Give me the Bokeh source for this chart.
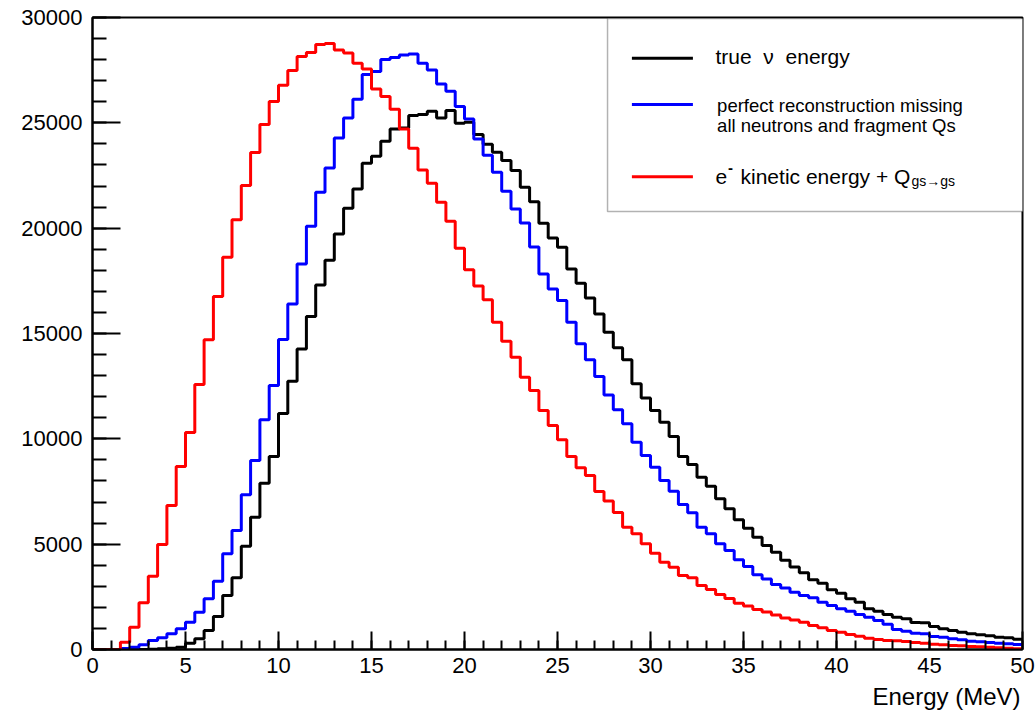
from bokeh.plotting import figure
from bokeh.models import Range1d, SingleIntervalTicker, Label, BoxAnnotation, Title
from bokeh.embed import file_html
from bokeh.resources import INLINE

# ---------------- data ----------------
e_min, e_max, n_bins = 0.0, 50.0, 100

true_nu = [
    0, 0, 0, 0, 0, 0, 10, 30, 60, 110,
    300, 506, 902, 1566, 2563, 3402, 4904, 6281, 7895, 9160,
    11200, 12735, 14269, 15805, 17308, 18480, 19728, 20947, 21864, 23082,
    23414, 24126, 24713, 24760, 25344, 25392, 25550, 25234, 25582, 24980,
    25027, 24443, 23980, 23605, 23208, 22734, 21940, 21250, 20233, 19537,
    19094, 18067, 17387, 16691, 15931, 15061, 14318, 13749, 12620, 11940,
    11343, 10789, 10109, 9160, 8780, 8179, 7752, 7151, 6677, 6155,
    5759, 5332, 4936, 4620, 4240, 3920, 3640, 3307, 3148, 2832,
    2674, 2404, 2246, 1930, 1819, 1661, 1530, 1455, 1281, 1265,
    1092, 981, 902, 823, 744, 696, 649, 585, 554, 490,
]

perfect_reco = [
    0, 0, 0, 50, 110, 221, 427, 554, 744, 981,
    1297, 1772, 2404, 3243, 4540, 5648, 7341, 8970, 10910, 12530,
    14713, 16406, 18304, 20092, 21706, 22861, 24285, 25234, 26120, 27290,
    27433, 28002, 28100, 28224, 28271, 27827, 27511, 26847, 26499, 25771,
    25187, 24238, 23460, 22655, 21750, 20915, 20250, 19110, 17830, 17118,
    16564, 15535, 14508, 13749, 12957, 12080, 11376, 10711, 9840, 9207,
    8654, 8021, 7515, 6882, 6487, 5807, 5490, 5015, 4699, 4256,
    3939, 3544, 3350, 3080, 2920, 2720, 2563, 2452, 2246, 2088,
    1930, 1819, 1661, 1534, 1376, 1200, 955, 870, 775, 744,
    617, 585, 506, 459, 395, 364, 332, 300, 269, 237,
]

electron_ke = [
    0, 0, 0, 346, 1060, 2215, 3480, 4983, 6834, 8685,
    10300, 12577, 14700, 16754, 18620, 20394, 22022, 23588, 24917, 26009,
    26783, 27480, 28144, 28334, 28714, 28761, 28462, 28320, 27827, 27560,
    26611, 26246, 25643, 24713, 23793, 22767, 22131, 21230, 20327, 19046,
    18021, 17260, 16597, 15534, 14633, 13873, 12924, 12292, 11343, 10631,
    9951, 9160, 8622, 8258, 7499, 7050, 6502, 5806, 5490, 5015,
    4572, 4145, 3908, 3512, 3402, 3037, 2848, 2610, 2420, 2200,
    2060, 1900, 1780, 1640, 1500, 1400, 1297, 1139, 1028, 902,
    823, 712, 633, 538, 475, 427, 410, 380, 332, 300,
    253, 221, 190, 174, 142, 127, 111, 80, 63, 32,
]

series_labels = ["true\u00a0\u00a0\u03bd\u00a0\u00a0energy",
                 "perfect reconstruction missing",
                 "all neutrons and fragment Qs",
                 "e", "-", "kinetic energy + Q", "gs\u2192gs"]
x_title = "Energy (MeV)"
y_title = "Events"

# ---------------- figure ----------------
FONT = "Liberation Sans"
bw = (e_max - e_min) / n_bins
edges = [e_min + i * bw for i in range(n_bins + 1)]

p = figure(width=1035, height=717, output_backend="svg", toolbar_location=None,
           x_range=Range1d(0, 50), y_range=Range1d(0, 30000),
           min_border_left=92, min_border_right=13, min_border_top=17,
           min_border_bottom=68)
p.xgrid.visible = False
p.ygrid.visible = False
p.outline_line_color = "black"
p.outline_line_width = 2
p.background_fill_color = "white"
p.border_fill_color = "white"

p.xaxis.ticker = SingleIntervalTicker(interval=5, num_minor_ticks=5)
p.yaxis.ticker = SingleIntervalTicker(interval=5000, num_minor_ticks=5)
for ax in (p.xaxis, p.yaxis):
    ax.axis_line_width = 2
    ax.axis_line_color = "black"
    ax.major_tick_line_width = 2
    ax.minor_tick_line_width = 2
    ax.major_tick_out = 0
    ax.minor_tick_out = 0
    ax.major_label_text_font = FONT
    ax.major_label_text_font_size = "22px"
    ax.major_label_text_color = "black"
p.xaxis.major_tick_in = 18
p.xaxis.minor_tick_in = 9
p.yaxis.major_tick_in = 28
p.yaxis.minor_tick_in = 14
p.xaxis.major_label_standoff = 8
p.yaxis.major_label_standoff = 10

for vals, col in [(true_nu, "#000000"), (perfect_reco, "#0000ff"), (electron_ke, "#ff0000")]:
    p.step(edges, list(vals) + [vals[-1]], mode="after", line_color=col, line_width=3)

# ---------------- legend ----------------
p.add_layout(BoxAnnotation(left=27.69, right=50.05, bottom=20791, top=29952,
                           fill_color="white", fill_alpha=1.0,
                           line_color="black", line_width=1.5))
for yy, col in [(28068, "#000000"), (25870, "#0000ff"), (22438, "#ff0000")]:
    r = p.segment(x0=[29.0], y0=[yy], x1=[32.28], y1=[yy], line_color=col, line_width=3)
    r.level = "overlay"

def lab(x, y, t, size, **kw):
    p.add_layout(Label(x=x, y=y, text=t, text_font=FONT, text_font_size=size,
                       text_color="black", text_baseline="alphabetic", **kw))

dy = 330  # baseline correction (~7 px)
lab(33.495, 27698 + dy + 100, series_labels[0], "21px")
lab(33.58, 25504 + dy, series_labels[1], "18.5px")
lab(33.58, 24527 + dy, series_labels[2], "18.5px")
lab(33.495, 22106 + dy, series_labels[3], "21px")
lab(34.16, 22547 + dy, series_labels[4], "15px", text_font_style="bold")
lab(34.84, 22106 + dy, series_labels[5], "21px")
lab(44.03, 21930 + dy, series_labels[6], "14px")

# axis titles
p.add_layout(Title(text=x_title, align="right", text_font=FONT, text_font_size="24px",
                   text_font_style="normal", text_color="black", offset=2, standoff=11),
             "below")
p.add_layout(Label(x=-80, y=636, x_units="screen", y_units="screen", text=y_title,
                   text_font=FONT, text_font_size="24px", text_color="black",
                   text_align="right", text_baseline="alphabetic", angle=1.5707963))

open("out.html", "w").write(file_html(p, INLINE))
